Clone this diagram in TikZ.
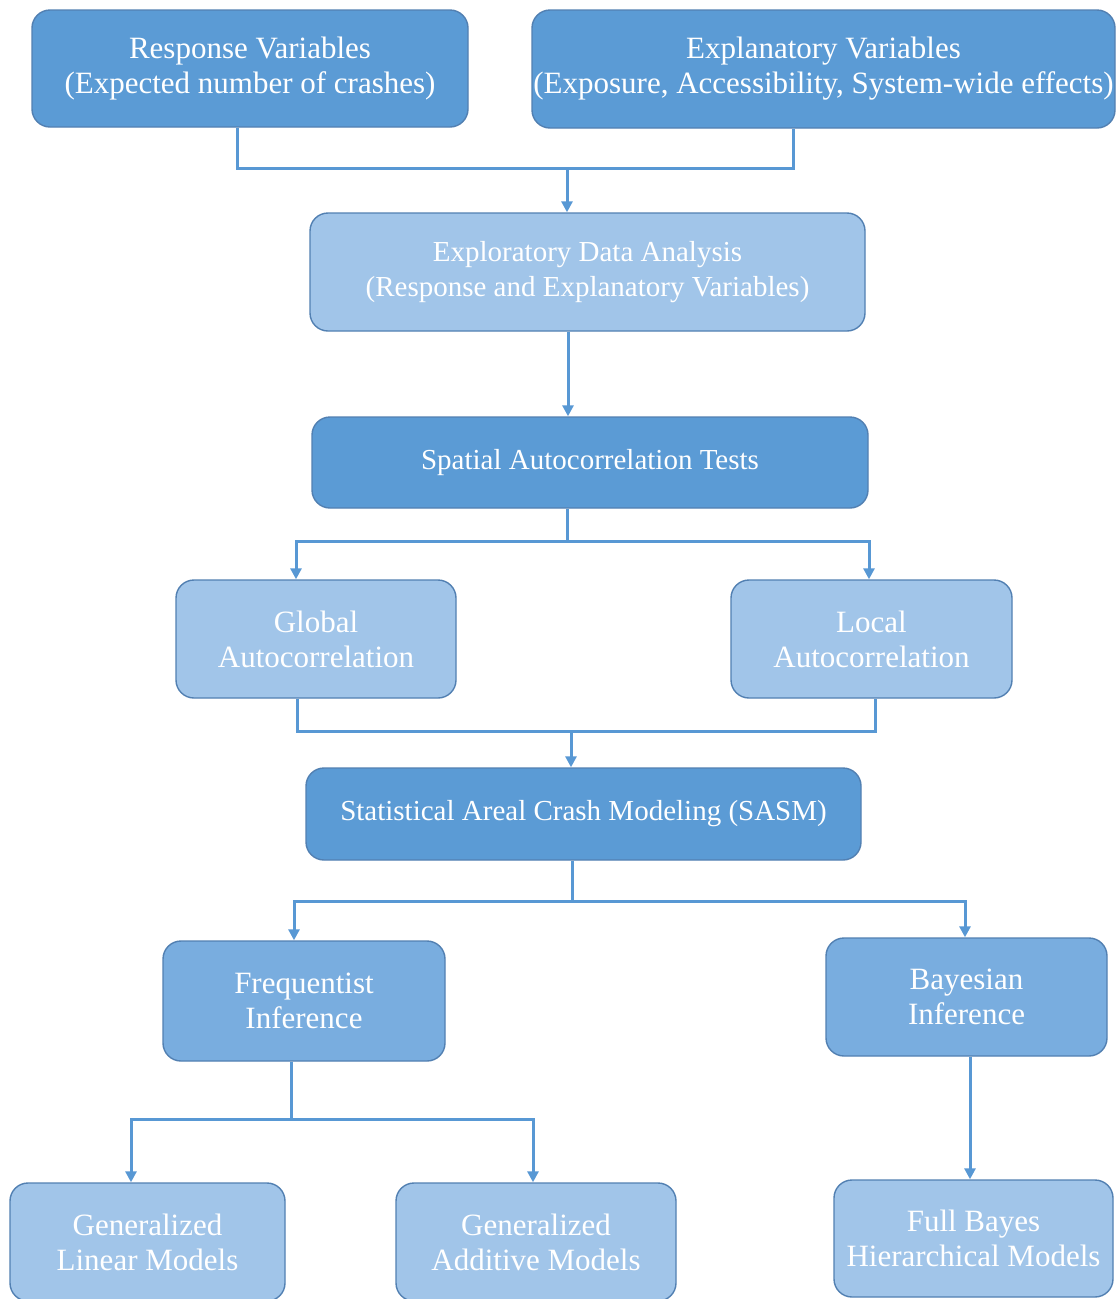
\documentclass[tikz,border=0pt]{standalone}
\usepackage{fontspec}
\setmainfont{Liberation Serif}
\usetikzlibrary{arrows.meta}
\definecolor{darkbox}{RGB}{91,155,213}
\definecolor{midbox}{RGB}{121,173,223}
\definecolor{lightbox}{RGB}{161,197,233}
\definecolor{boxline}{RGB}{82,128,178}
\definecolor{linkblue}{RGB}{88,152,212}
\begin{document}
\begin{tikzpicture}[x=1pt,y=-1pt,
  box/.style={draw=boxline, line width=1.4pt, rounded corners=18pt, text=white,
    align=center, inner sep=0pt, font=\fontsize{31}{35}\selectfont},
  narrowtext/.style={font=\fontsize{29}{35}\selectfont},
  darkstep/.style={box, fill=darkbox},
  midstep/.style={box, fill=midbox},
  lightstep/.style={box, fill=lightbox},
  link/.style={draw=linkblue, line width=3pt},
  arr/.style={link, -{Triangle[length=11pt,width=11pt]}}]
\useasboundingbox (0,0) rectangle (1117,1299);
\fill[white] (0,0) rectangle (1117,1299);
\node[darkstep, minimum width=436pt, minimum height=117pt] (resp) at (250,68.5) {Response Variables\\(Expected number of crashes)};
\node[darkstep, minimum width=583pt, minimum height=118pt] (expl) at (823.5,69) {Explanatory Variables\\(Exposure, Accessibility, System-wide effects)};
\node[lightstep, narrowtext, minimum width=555pt, minimum height=118pt] (eda) at (587.5,272) {Exploratory Data Analysis\\(Response and Explanatory Variables)};
\node[darkstep, narrowtext, minimum width=556pt, minimum height=91pt] (sat) at (590,462.5) {Spatial Autocorrelation Tests};
\node[lightstep, minimum width=280pt, minimum height=118pt] (glob) at (316,639) {Global\\Autocorrelation};
\node[lightstep, minimum width=281pt, minimum height=118pt] (loc) at (871.5,639) {Local\\Autocorrelation};
\node[darkstep, narrowtext, minimum width=555pt, minimum height=92pt] (sasm) at (583.5,814) {Statistical Areal Crash Modeling (SASM)};
\node[midstep, minimum width=282pt, minimum height=120pt] (freq) at (304,1001) {Frequentist\\Inference};
\node[midstep, minimum width=281pt, minimum height=118pt] (bayes) at (966.5,997) {Bayesian\\Inference};
\node[lightstep, minimum width=275pt, minimum height=118pt] (glm) at (147.5,1242) {Generalized\\Linear Models};
\node[lightstep, minimum width=280pt, minimum height=118pt] (gam) at (536,1242) {Generalized\\Additive Models};
\node[lightstep, minimum width=279pt, minimum height=117pt] (fbh) at (973.5,1238.5) {Full Bayes\\Hierarchical Models};
% bends of the connectors
\coordinate (c1l) at (237,168);
\coordinate (c1m) at (567,168);
\coordinate (c1r) at (793,168);
\coordinate (c2) at (568,370);
\coordinate (c3l) at (296,541);
\coordinate (c3m) at (567,541);
\coordinate (c3r) at (869,541);
\coordinate (c4l) at (297,731);
\coordinate (c4m) at (571,731);
\coordinate (c4r) at (875,731);
\coordinate (c5l) at (294,901);
\coordinate (c5m) at (572,901);
\coordinate (c5r) at (965,901);
\coordinate (c6l) at (131,1119);
\coordinate (c6m) at (291,1119);
\coordinate (c6r) at (533,1119);
\coordinate (c7) at (970,1120);
\draw[link] (c1l |- resp.south) -- (c1l) -- (c1r) -- (c1r |- expl.south);
\draw[arr] (c1m) -- (c1m |- eda.north);
\draw[arr] (c2 |- eda.south) -- (c2 |- sat.north);
\draw[link] (c3m |- sat.south) -- (c3m);
\draw[arr] (c3m) -- (c3l) -- (c3l |- glob.north);
\draw[arr] (c3m) -- (c3r) -- (c3r |- loc.north);
\draw[link] (c4l |- glob.south) -- (c4l) -- (c4r) -- (c4r |- loc.south);
\draw[arr] (c4m) -- (c4m |- sasm.north);
\draw[link] (c5m |- sasm.south) -- (c5m);
\draw[arr] (c5m) -- (c5l) -- (c5l |- freq.north);
\draw[arr] (c5m) -- (c5r) -- (c5r |- bayes.north);
\draw[link] (c6m |- freq.south) -- (c6m);
\draw[arr] (c6m) -- (c6l) -- (c6l |- glm.north);
\draw[arr] (c6m) -- (c6r) -- (c6r |- gam.north);
\draw[arr] (c7 |- bayes.south) -- (c7 |- fbh.north);
\end{tikzpicture}
\end{document}
